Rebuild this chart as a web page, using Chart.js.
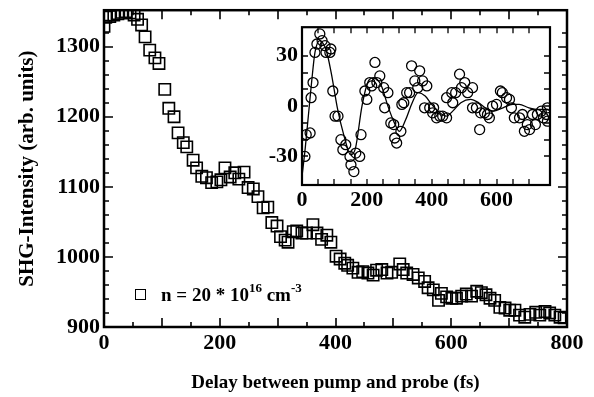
<!DOCTYPE html>
<html>
<head>
<meta charset="utf-8">
<script src="https://cdn.jsdelivr.net/npm/chart.js@4.4.1/dist/chart.umd.min.js"></script>
<style>
  html, body { margin: 0; padding: 0; background: #fff; }
  #wrap { position: relative; width: 594px; height: 397px; overflow: hidden; }
  #main { position: absolute; left: 0; top: -7px; }
  #inset { position: absolute; left: 268px; top: 10px; }
  #legend {
    position: absolute; left: 135px; top: 284px;
    font: bold 19px "Liberation Serif", serif; white-space: nowrap;
  }
  #legend .box {
    display: inline-block; width: 9px; height: 9px;
    border: 1.5px solid #000; margin-right: 15px; vertical-align: 1px;
  }
  #legend sup { font-size: 13px; line-height: 0; vertical-align: 9px; }
</style>
</head>
<body>
<div id="wrap">
  <canvas id="main" width="594" height="404"></canvas>
  <canvas id="inset" width="292" height="205"></canvas>
  <div id="legend"><span class="box"></span>n = 20 * 10<sup>16</sup> cm<sup>-3</sup></div>
</div>
<script>
(function () {
  "use strict";

  // main trace: SHG intensity vs delay (fs)
  const delay = [0, 3, 10, 17, 24, 31, 38, 45, 52, 58, 65, 71, 79, 88, 95, 105, 112, 121, 128, 137,
    143, 154, 160, 169, 177, 186, 195, 202, 209, 218, 226, 233, 242, 249, 258, 266, 275, 283, 290, 299,
    305, 313, 318, 327, 333, 342, 350, 361, 368, 376, 385, 392, 401, 408, 416, 421, 430, 439, 447, 456,
    465, 471, 480, 489, 497, 511, 517, 523, 534, 543, 554, 560, 569, 578, 583, 592, 601, 609, 618, 626,
    635, 644, 652, 660, 667, 675, 684, 693, 701, 710, 718, 727, 736, 746, 753, 762, 770, 779, 788, 795];
  const intensity = [1329, 1342, 1343, 1345, 1347, 1349, 1350, 1348, 1345, 1339, 1331, 1314, 1295, 1284, 1276, 1239, 1212, 1200, 1177, 1163,
    1157, 1138, 1127, 1115, 1113, 1106, 1107, 1110, 1127, 1114, 1120, 1111, 1121, 1099, 1097, 1086, 1070, 1071, 1049, 1044,
    1029, 1024, 1021, 1036, 1037, 1034, 1034, 1046, 1034, 1025, 1031, 1021, 1001, 997, 991, 988, 984, 978, 979, 977,
    974, 981, 982, 977, 978, 990, 982, 977, 975, 970, 965, 956, 953, 938, 948, 943, 941, 941, 944, 947,
    944, 951, 949, 946, 941, 938, 928, 927, 924, 924, 917, 914, 918, 921, 917, 922, 920, 917, 914, 913];

  // inset: oscillating part (circles) and fit (line)
  const oscDelay = [9, 13, 25, 28, 34, 40, 46, 55, 62, 71, 74, 86, 89, 95, 102, 111, 120, 126, 135, 148,
    151, 160, 166, 178, 182, 194, 200, 209, 215, 225, 231, 240, 252, 255, 265, 274, 283, 286, 292, 305,
    308, 314, 323, 332, 338, 348, 357, 363, 372, 378, 385, 394, 403, 406, 415, 425, 434, 446, 446, 462,
    465, 474, 486, 492, 502, 511, 526, 526, 538, 548, 551, 563, 572, 578, 588, 600, 612, 618, 631, 640,
    646, 655, 671, 680, 686, 695, 702, 711, 720, 726, 738, 745, 754, 757, 757];
  const oscValue = [-30, -17, -16, 5, 14, 32, 37, 43, 39, 36, 32, 32, 34, 9, -6, -6, -20, -26, -23, -30,
    -35, -39, -28, -30, -17, 9, 4, 14, 12, 26, 14, 18, 11, -1, 8, -10, -11, -19, -22, -15,
    1, 2, 8, 8, 24, 15, 11, 21, 15, -1, 12, -1, -4, -1, -7, -6, -6, -7, 5, 8,
    2, 8, 19, 11, 14, 8, 11, -1, -1, -14, -4, -4, -5, -7, 0, 1, 9, 8, 5, 4,
    -1, -7, -7, -5, -15, -11, -14, -5, -11, -5, -3, -7, -5, -1, -9];
  const fitDelay = [0, 10, 20, 30, 40, 55, 75, 90, 110, 130, 150, 165, 185, 205, 222, 245, 265, 285, 300,
    320, 340, 358, 380, 400, 425, 445, 465, 490, 520, 545, 565, 590, 620, 650, 670, 700, 730, 760];
  const fitValue = [-42, -25, -5, 15, 32, 39, 33, 20, -2, -18, -29, -25, 0, 15, 17, 12, 0, -10, -15,
    -8, 2, 8, 6, 1, -4, -6, -3, 2, 4, 2, -1, -3, -1, 1, 1, -1, -2, -2];

  const mainXLabels = [0, 200, 400, 600, 800];
  const mainYLabels = [900, 1000, 1100, 1200, 1300];
  const insetXLabels = [0, 200, 400, 600];
  const insetYLabels = [-30, 0, 30];

  const SERIF = '"Liberation Serif", "Times New Roman", serif';

  function pairs(xs, ys) {
    return xs.map(function (x, i) { return { x: x, y: ys[i] }; });
  }

  // inward ticks on all four sides + frame, optional white plot area
  const frameTicks = {
    id: "frameTicks",
    beforeDatasetsDraw(chart, args, o) {
      if (!o.fill) return;
      const a = chart.chartArea;
      chart.ctx.save();
      chart.ctx.fillStyle = "#fff";
      chart.ctx.fillRect(a.left, a.top, a.width, a.height);
      chart.ctx.restore();
    },
    afterDraw(chart, args, o) {
      const ctx = chart.ctx;
      const a = chart.chartArea;
      const xs = chart.scales.x;
      const ys = chart.scales.y;
      ctx.save();
      ctx.strokeStyle = "#000";
      ctx.lineWidth = o.tickWidth;
      ctx.beginPath();
      xs.ticks.forEach(function (t) {
        if (t.value % o.xMinor !== 0) return;
        const len = t.value % o.xMajor === 0 ? o.major : o.minor;
        const px = Math.round(xs.getPixelForValue(t.value));
        ctx.moveTo(px, a.bottom); ctx.lineTo(px, a.bottom - len);
        ctx.moveTo(px, a.top); ctx.lineTo(px, a.top + len);
      });
      ys.ticks.forEach(function (t) {
        if (t.value % o.yMinor !== 0) return;
        const len = t.value % o.yMajor === 0 ? o.major : o.minor;
        const py = Math.round(ys.getPixelForValue(t.value));
        ctx.moveTo(a.left, py); ctx.lineTo(a.left + len, py);
        ctx.moveTo(a.right, py); ctx.lineTo(a.right - len, py);
      });
      ctx.stroke();
      ctx.lineWidth = o.frameWidth;
      ctx.strokeRect(a.left, a.top, a.width, a.height);
      ctx.restore();
    }
  };

  function fixSize(w, h) {
    return function (scale) {
      if (w != null) scale.width = w;
      if (h != null) scale.height = h;
    };
  }

  const tickFont = { family: SERIF, size: 22, weight: "bold" };

  new Chart(document.getElementById("main"), {
    type: "scatter",
    data: {
      datasets: [{
        data: pairs(delay, intensity),
        pointStyle: "rect",
        pointRadius: 8,
        pointBorderWidth: 1.6,
        borderColor: "#000",
        backgroundColor: "rgba(0,0,0,0)"
      }]
    },
    plugins: [frameTicks],
    options: {
      responsive: false,
      animation: false,
      devicePixelRatio: 1,
      layout: { padding: { top: 0, right: 27, left: 0, bottom: 0 } },
      plugins: {
        legend: { display: false },
        tooltip: { enabled: false },
        frameTicks: { xMinor: 50, xMajor: 100, yMinor: 20, yMajor: 100, major: 9, minor: 5, tickWidth: 1.6, frameWidth: 2.5 }
      },
      scales: {
        x: {
          type: "linear", min: 0, max: 800,
          afterFit: fixSize(null, 70),
          grid: { display: false, drawTicks: false },
          border: { display: false },
          ticks: {
            stepSize: 50, autoSkip: false, maxRotation: 0, padding: 3,
            color: "#000", font: tickFont,
            callback: function (v) { return mainXLabels.indexOf(v) >= 0 ? String(v) : ""; }
          },
          title: {
            display: true, text: "Delay between pump and probe (fs)", color: "#000",
            font: { family: SERIF, size: 19, weight: "bold" }, padding: { top: 0, bottom: 3 }
          }
        },
        y: {
          type: "linear", min: 900, max: 1352,
          afterFit: fixSize(104, null),
          grid: { display: false, drawTicks: false },
          border: { display: false },
          ticks: {
            stepSize: 20, autoSkip: false, padding: 4,
            color: "#000", font: tickFont,
            callback: function (v) { return mainYLabels.indexOf(v) >= 0 ? String(v) : ""; }
          },
          title: {
            display: true, text: "SHG-Intensity (arb. units)", color: "#000",
            font: { family: SERIF, size: 21, weight: "bold" }, padding: { top: 15, bottom: 0 }
          }
        }
      }
    }
  });

  new Chart(document.getElementById("inset"), {
    type: "scatter",
    data: {
      datasets: [{
        data: pairs(oscDelay, oscValue),
        pointStyle: "circle",
        pointRadius: 5,
        pointBorderWidth: 1.3,
        borderColor: "#000",
        backgroundColor: "rgba(0,0,0,0)"
      }, {
        data: pairs(fitDelay, fitValue),
        showLine: true,
        pointRadius: 0,
        borderColor: "#000",
        borderWidth: 1.3,
        cubicInterpolationMode: "monotone"
      }]
    },
    plugins: [frameTicks],
    options: {
      responsive: false,
      animation: false,
      devicePixelRatio: 1,
      layout: { padding: { top: 0, right: 10, left: 0, bottom: 0 } },
      plugins: {
        legend: { display: false },
        tooltip: { enabled: false },
        frameTicks: { fill: true, xMinor: 50, xMajor: 50, yMinor: 10, yMajor: 10, major: 6, minor: 6, tickWidth: 1.3, frameWidth: 2.2 }
      },
      scales: {
        x: {
          type: "linear", min: 0, max: 765,
          afterFit: fixSize(null, 30),
          grid: { display: false, drawTicks: false },
          border: { display: false },
          ticks: {
            stepSize: 50, autoSkip: false, maxRotation: 0, padding: 2,
            color: "#000", font: tickFont,
            callback: function (v) { return insetXLabels.indexOf(v) >= 0 ? String(v) : ""; }
          }
        },
        y: {
          type: "linear", min: -47, max: 47,
          afterFit: fixSize(34, null),
          grid: { display: false, drawTicks: false },
          border: { display: false },
          ticks: {
            stepSize: 10, autoSkip: false, padding: 4,
            color: "#000", font: tickFont,
            callback: function (v) { return insetYLabels.indexOf(v) >= 0 ? String(v) : ""; }
          }
        }
      }
    }
  });
})();
</script>
</body>
</html>
